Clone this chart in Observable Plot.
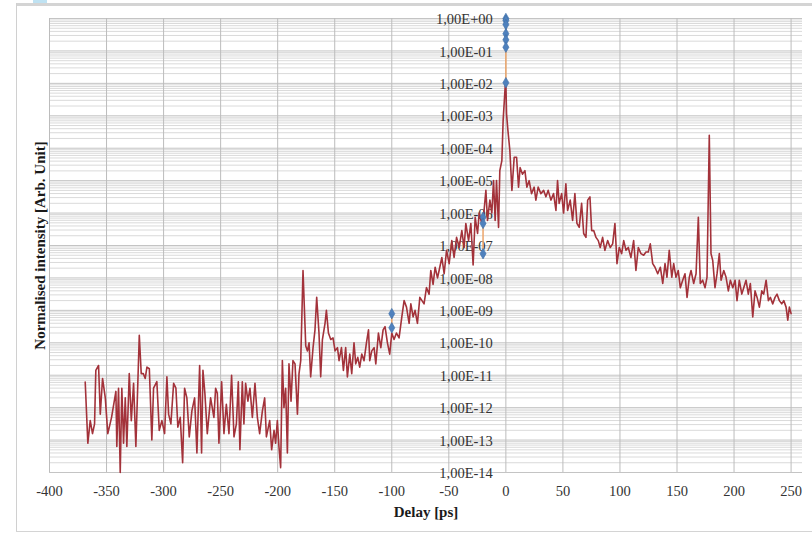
<!DOCTYPE html>
<html>
<head>
<meta charset="utf-8">
<script src="https://cdn.jsdelivr.net/npm/d3@7"></script>
<script src="https://cdn.jsdelivr.net/npm/@observablehq/plot@0.6"></script>
<style>
  html, body { margin: 0; padding: 0; background: #fff; }
  #frame { position: relative; width: 812px; height: 533px; overflow: hidden; }
  #chart { position: absolute; left: 0; top: 0; }
  .edge { position: absolute; background: #d4d4d4; }
</style>
</head>
<body>
<div id="frame">
  <div class="edge" style="left:16px; top:3px; width:796px; height:3px;"></div>
  <div class="edge" style="left:16px; top:3px; width:1px; height:529px; background:#d0d0d0;"></div>
  <div class="edge" style="left:16px; top:531px; width:796px; height:1px;"></div>
  <div class="edge" style="left:33px; top:0; width:14px; height:3px; background:#bfe2f2;"></div>
  <div id="chart"></div>
</div>
<script>
// Axis annotation
const xTitle = "Delay [ps]";
const yTitle = "Normalised intensity [Arb. Unit]";
const xTicks = [-400, -350, -300, -250, -200, -150, -100, -50, 0, 50, 100, 150, 200, 250];
const yTicks = [1e0, 1e-1, 1e-2, 1e-3, 1e-4, 1e-5, 1e-6, 1e-7, 1e-8, 1e-9, 1e-10, 1e-11, 1e-12, 1e-13, 1e-14];

// Measured contrast trace: delay (ps) and log10 of the normalised intensity
const delayPs = [
  -368.7, -366.4, -364.3, -362.3, -360.5, -359.4, -357.0, -355.5, -353.5, -351.1,
  -348.9, -345.6, -341.8, -341.0, -339.5, -338.0, -336.6, -335.1, -333.6, -332.2,
  -330.1, -328.3, -326.3, -324.3, -321.3, -319.6, -317.8, -316.1, -314.6, -312.5,
  -310.3, -308.8, -305.9, -303.8, -301.5, -299.1, -297.1, -295.6, -293.6, -291.2,
  -289.2, -287.5, -285.4, -283.3, -281.6, -279.6, -277.5, -275.2, -272.8, -270.8,
  -268.4,
  -266.7, -265.5, -263.8, -261.7, -258.8, -255.9, -254.4, -252.9, -251.5, -249.1,
  -247.1, -245.0, -242.7, -240.4, -238.3, -236.2, -234.5, -233.1, -231.0, -229.6,
  -228.1, -226.1, -224.3, -222.2, -219.9, -217.8, -215.8, -213.4, -211.4, -209.9,
  -207.0, -205.3, -203.2, -201.8, -200.3, -198.9, -197.4, -195.9, -194.5, -193.0,
  -191.5, -190.1, -188.3, -186.6, -184.8, -182.7, -181.3, -179.8, -177.8,
  -175.4, -173.9, -172.5, -171.1, -169.0, -167.3, -165.8, -163.8, -162.3, -160.8,
  -158.5, -157.3, -155.5, -153.5, -151.5, -149.7, -147.6, -146.2, -144.1, -142.4,
  -140.4, -138.9, -136.8, -135.1, -133.1, -131.6, -129.8, -128.1, -126.3, -124.3,
  -122.2, -120.4, -119.3, -117.5, -115.5, -114.0, -111.7, -109.6, -107.6, -105.9,
  -103.8, -101.8, -100.0, -98.0, -95.9, -93.6, -91.2, -89.2, -87.1, -84.8,
  -83.3, -81.3, -79.6, -77.5, -75.4,
  -71.7, -69.6, -67.3, -65.8, -63.8, -62.0, -59.9, -58.5, -56.1, -54.1,
  -52.0, -49.7, -47.4, -45.4, -43.2, -40.9, -38.6, -36.6, -35.1, -32.7,
  -30.7, -28.7, -26.9, -24.8, -23.4, -21.1, -19.1, -17.5, -16.1, -14.0,
  -12.3, -10.8, -9.4, -8.2, -6.4, -5.3, -3.5, -2.4, -0.6, 0,
  0.6, 1.8, 3.5, 5.3, 7.3, 9.4, 11.1,
  12.5, 14.6, 16.7, 18.4, 20.4, 22.5, 24.8, 26.3, 28.3, 30.7,
  33.1, 35.1, 37.1, 39.5, 41.8, 43.9, 45.3, 46.7, 48.9, 50.6,
  52.6, 54.1, 56.4, 58.5, 60.5, 62.3, 64.3, 66.4, 68.2, 70.2,
  71.7, 73.7, 75.2, 77.0, 79.0, 81.0, 82.7, 84.8, 86.8, 89.2,
  91.5, 93.6, 95.6, 97.4, 99.4, 101.5, 103.3, 105.3, 107.3, 109.6,
  112.0, 114.0, 116.1, 118.4, 120.8, 122.8, 124.8, 126.6, 128.7, 130.7,
  133.1, 135.4, 137.5, 139.5, 141.2, 143.2, 145.4, 147.1, 149.1, 151.1,
  152.9, 155.0, 157.0, 158.8, 160.8, 162.3, 164.6, 166.7, 168.7, 170.4,
  172.5, 174.6, 176.3, 178.3, 179.8, 181.3, 183.3, 185.1, 187.1, 188.6,
  191.0, 193.0, 195.0, 196.8, 198.9, 200.9, 202.6, 204.6, 206.8, 208.5,
  210.5, 212.5, 214.3, 216.4, 218.4, 220.2, 222.2, 224.3, 226.0, 228.1,
  230.1, 231.8, 233.9, 235.9, 237.7, 239.7, 241.8, 243.6, 245.6, 247.1,
  248.5, 250.0
];
const log10Intensity = [
  -11.21, -13.1, -12.4, -12.8, -12.5, -10.85, -10.7, -12.2, -11.1, -11.7,
  -12.8, -12.3, -11.5, -13.2, -11.4, -14.0, -11.4, -13.1, -11.7, -13.2,
  -10.95, -12.4, -11.25, -13.2, -9.77, -10.95, -10.95, -11.1, -10.75, -10.8,
  -13.0, -11.4, -11.2, -12.7, -12.4, -12.8, -11.05, -12.2, -12.5, -11.25,
  -11.4, -12.6, -12.3, -13.7, -11.4, -11.7, -12.9, -12.1, -11.7, -13.4,
  -10.7,
  -13.4, -10.85, -11.56, -12.8, -11.7, -12.3, -11.4, -11.56, -13.1, -11.2,
  -12.8, -11.9, -12.8, -11.0, -12.9, -12.5, -11.2, -13.3, -11.2, -12.5,
  -11.25, -11.8, -11.4, -12.3, -11.25, -12.3, -12.8, -12.1, -11.7, -12.9,
  -12.4, -13.3, -12.7, -13.1, -12.4, -13.2, -13.85, -10.55, -12.0, -11.4,
  -13.4, -10.65, -11.8, -10.55, -10.65, -12.2, -10.95, -10.55, -7.77,
  -10.1, -10.25, -10.0, -11.05, -10.15, -9.6, -8.6, -9.7, -11.05, -9.9,
  -9.4, -9.0, -9.7, -9.9, -9.85, -10.25, -10.15, -10.55, -10.15, -10.85,
  -10.15, -11.05, -10.35, -10.95, -10.0, -10.65, -10.45, -10.75, -10.35, -10.55,
  -10.0, -9.6, -10.55, -10.25, -10.15, -10.65, -9.7, -10.15, -9.6, -9.5,
  -10.0, -10.35, -9.7, -9.9, -9.7, -9.85, -9.2, -8.7, -8.9, -9.4,
  -8.8, -9.2, -9.0, -9.4, -8.6,
  -8.8, -8.3, -8.5, -7.77, -8.2, -7.67, -8.0, -7.77, -7.37, -7.87,
  -7.15, -7.56, -6.85, -7.37, -6.75, -7.06, -6.54, -7.06, -6.32, -6.85,
  -6.32, -7.6, -6.13, -6.63, -6.0, -6.32, -5.92, -5.3, -6.23, -5.6,
  -6.0, -5.0, -6.23, -5.0, -6.44, -4.69, -4.38, -3.15, -2.1, -2.0,
  -2.94, -3.45, -4.07, -5.3, -4.28, -4.28, -5.2,
  -4.6, -4.8, -4.69, -5.2, -5.0, -5.4, -5.2, -5.6, -5.2, -5.4,
  -5.3, -5.5, -5.3, -5.6, -5.4, -5.92, -5.0, -5.7, -5.4, -6.0,
  -5.1, -5.92, -5.6, -6.23, -5.4, -6.32, -6.44, -5.7, -6.63, -6.75,
  -5.6, -5.5, -6.54, -6.54, -6.75, -6.85, -7.06, -6.75, -7.15, -6.85,
  -7.06, -6.95, -6.32, -7.56, -7.06, -7.25, -6.85, -7.15, -7.06, -7.37,
  -6.85, -7.77, -7.06, -7.25, -7.3, -7.2, -7.2, -6.95, -7.56, -7.67,
  -7.87, -7.67, -8.17, -7.56, -7.98, -7.15, -7.98, -7.56, -7.98, -7.77,
  -8.3, -8.07, -7.87, -8.6, -7.98, -7.77, -8.17, -7.87, -6.13, -8.17,
  -8.07, -8.3, -7.98, -3.6, -7.25, -7.46, -8.3, -7.87, -7.25, -8.07,
  -7.77, -7.98, -8.4, -8.07, -8.3, -8.07, -8.7, -8.07, -8.5, -8.3,
  -8.07, -8.5, -8.17, -9.2, -8.4, -8.6, -8.9, -8.4, -8.5, -8.07,
  -8.7, -8.6, -8.8, -8.6, -8.5, -8.7, -8.8, -8.7, -8.9, -9.3,
  -8.9, -9.1
];

// Reference points (blue diamonds)
const markerDelay = [0, 0, 0, 0, 0, 0, 0, -20, -20, -20, -100, -100];
const markerIntensity = [1, 0.87, 0.65, 0.34, 0.22, 0.13, 0.0105, 7.4e-7, 4.8e-7, 5.6e-8, 7.9e-10, 2.9e-10];

const trace = delayPs.map((d, i) => ({delay: d, intensity: 10 ** log10Intensity[i]}));
const markers = markerDelay.map((d, i) => ({delay: d, intensity: markerIntensity[i]}));

// Minor log gridlines at 2..9 within every decade
const minorTicks = [];
for (let e = -14; e < 0; e++) for (let m = 2; m <= 9; m++) minorTicks.push(m * 10 ** e);

const sciLabel = d => {
  const e = Math.round(Math.log10(d));
  return "1,00E" + (e < 0 ? "-" : "+") + String(Math.abs(e)).padStart(2, "0");
};

const serif = "'Liberation Serif', 'Times New Roman', 'DejaVu Serif', serif";

const chart = Plot.plot({
  width: 812,
  height: 533,
  marginLeft: 49,
  marginRight: 10,
  marginTop: 18,
  marginBottom: 61,
  style: {fontFamily: serif, fontSize: "14.5px", background: "transparent", color: "#333"},
  x: {domain: [-400, 260], label: null},
  y: {type: "log", domain: [1e-14, 1], label: null, axis: null},
  marks: [
    Plot.ruleY(minorTicks, {stroke: "#dadada", strokeWidth: 1}),
    Plot.ruleY(yTicks, {stroke: "#c4c4c4", strokeWidth: 1}),
    Plot.ruleX(xTicks, {stroke: "#bcbcbc", strokeWidth: 1}),
    Plot.axisX(xTicks, {tickSize: 0, tickPadding: 13, tickFormat: d => String(d), fontSize: 14.5, fill: "#333", label: null}),
    Plot.text(yTicks, {x: 0, y: d => d, text: sciLabel, textAnchor: "end", dx: -13, dy: 1, fontSize: 14.5, fill: "#333"}),
    Plot.text([xTitle], {frameAnchor: "bottom", dy: 40, textAnchor: "middle", lineAnchor: "middle", fontWeight: "bold", fontSize: 15, fill: "#1a1a1a"}),
    Plot.text([yTitle], {frameAnchor: "left", dx: -9, rotate: -90, textAnchor: "middle", lineAnchor: "middle", fontWeight: "bold", fontSize: 15, fill: "#1a1a1a"}),
    Plot.line(markers, {x: "delay", y: "intensity", z: "delay", stroke: "#eba56a", strokeWidth: 1.5}),
    Plot.line(trace, {x: "delay", y: "intensity", stroke: "#a3323a", strokeWidth: 1.6}),
    Plot.dot(markers, {x: "delay", y: "intensity", symbol: "diamond", r: 3.2, fill: "#4f81bd", stroke: "#3e6fa8", strokeWidth: 0.6})
  ]
});
document.getElementById("chart").append(chart);
</script>
</body>
</html>
